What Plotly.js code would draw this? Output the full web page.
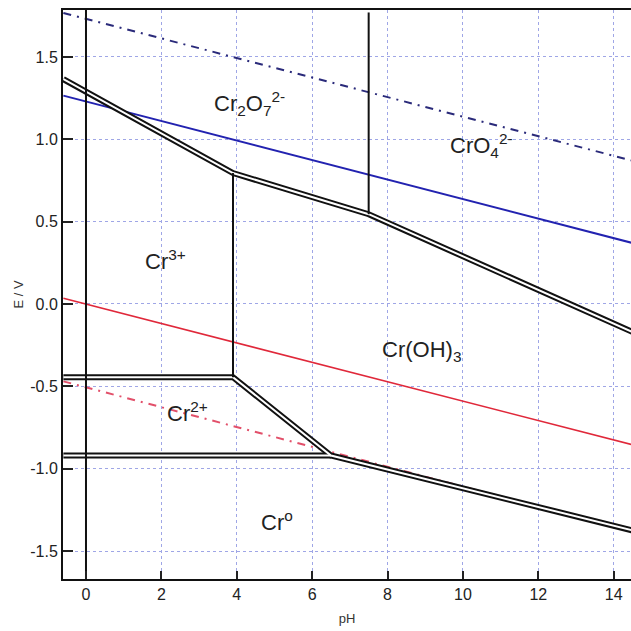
<!DOCTYPE html>
<html>
<head>
<meta charset="utf-8">
<script src="https://cdn.plot.ly/plotly-3.0.1.min.js"></script>
<style>html,body{margin:0;padding:0;background:#fff;}#chart{width:631px;height:631px;}</style>
</head>
<body>
<div id="chart"></div>
<script>
// Boundary lines of the Cr Pourbaix diagram (pH, E/V)
const upperPH = [-0.6, 3.9, 7.5, 14.5];
const upperE  = [1.365, 0.795, 0.545, -0.17];
const lowerPH = [-0.6, 3.9, 6.5, 14.5];
const lowerE  = [-0.445, -0.445, -0.92, -1.375];
const cr2PH = [-0.6, 6.5];
const cr2E  = [-0.92, -0.92];
const o2PH = [-0.6, 14.5];
const o2E  = [1.265, 0.37];
const h2PH = [-0.6, 14.5];
const h2E  = [0.035, -0.855];
const topDashPH = [-0.6, 14.5];
const topDashE  = [1.767, 0.87];
const lowDashPH = [-0.6, 14.5];
const lowDashE  = [-0.47, -1.38];
const vLines = [
  {ph: [0, 0], e: [-1.67, 1.785]},
  {ph: [3.9, 3.9], e: [0.795, -0.445]},
  {ph: [7.5, 7.5], e: [1.77, 0.545]}
];
const labels = [
  {ph: 4.35, e: 1.22, text: 'Cr<sub>2</sub>O<sub>7</sub><sup>2-</sup>'},
  {ph: 10.5, e: 0.965, text: 'CrO<sub>4</sub><sup>2-</sup>'},
  {ph: 2.1, e: 0.27, text: 'Cr<sup>3+</sup>'},
  {ph: 8.9, e: -0.285, text: 'Cr(OH)<sub>3</sub>'},
  {ph: 2.68, e: -0.655, text: 'Cr<sup>2+</sup>'},
  {ph: 5.07, e: -1.32, text: 'Cr<sup>o</sup>'}
];
const xTicks = [0, 2, 4, 6, 8, 10, 12, 14];
const yTicks = [-1.5, -1.0, -0.5, 0.0, 0.5, 1.0, 1.5];
const yTickText = ['-1.5', '-1.0', '-0.5', '0.0', '0.5', '1.0', '1.5'];

const traces = [];
function line(x, y, color, width, dash) {
  traces.push({x: x, y: y, type: 'scatter', mode: 'lines', hoverinfo: 'skip',
    line: {color: color, width: width, dash: dash || 'solid'}});
}
line(h2PH, h2E, '#e0283a', 1.6);
line(o2PH, o2E, '#2222b0', 2);
line(topDashPH, topDashE, '#2a2a7a', 2, '8px,6px,2px,6px');
line(lowDashPH, lowDashE, '#e2506a', 2, '8px,6px,2px,6px');
// double lines: black outline then white core
[[upperPH, upperE], [lowerPH, lowerE], [cr2PH, cr2E]].forEach(d => line(d[0], d[1], '#111', 6));
[[upperPH, upperE], [lowerPH, lowerE], [cr2PH, cr2E]].forEach(d => line(d[0], d[1], '#fff', 2));
vLines.forEach(v => line(v.ph, v.e, '#111', 2));

const layout = {
  width: 631, height: 631,
  margin: {l: 63, r: 0, t: 10, b: 52},
  paper_bgcolor: '#fff', plot_bgcolor: '#fff',
  showlegend: false,
  font: {family: 'Liberation Sans, Arial, sans-serif', color: '#222'},
  xaxis: {
    range: [-0.61, 14.46], tickvals: xTicks, ticks: 'inside', ticklen: 8, tickwidth: 2, tickcolor: '#222',
    showline: true, linecolor: '#111', linewidth: 2, mirror: true,
    showgrid: true, gridcolor: '#9fa6e6', griddash: 'dot', gridwidth: 1, zeroline: false,
    tickfont: {size: 16, color: '#222'},
    title: {text: 'pH', font: {size: 13, color: '#333'}, standoff: 12}
  },
  yaxis: {
    range: [-1.67, 1.785], tickvals: yTicks, ticktext: yTickText, ticks: 'inside', ticklen: 10, tickwidth: 2, tickcolor: '#222',
    showline: true, linecolor: '#111', linewidth: 2,
    showgrid: true, gridcolor: '#9fa6e6', griddash: 'dot', gridwidth: 1, zeroline: false,
    tickfont: {size: 16, color: '#222'},
    title: {text: 'E / V', font: {size: 13, color: '#333'}, standoff: 4}
  },
  annotations: labels.map(l => ({x: l.ph, y: l.e, xref: 'x', yref: 'y', text: l.text, showarrow: false,
    font: {size: 22, color: '#222', family: 'Liberation Sans, Arial, sans-serif'}}))
};
Plotly.newPlot('chart', traces, layout, {displayModeBar: false, staticPlot: true});
</script>
</body>
</html>
